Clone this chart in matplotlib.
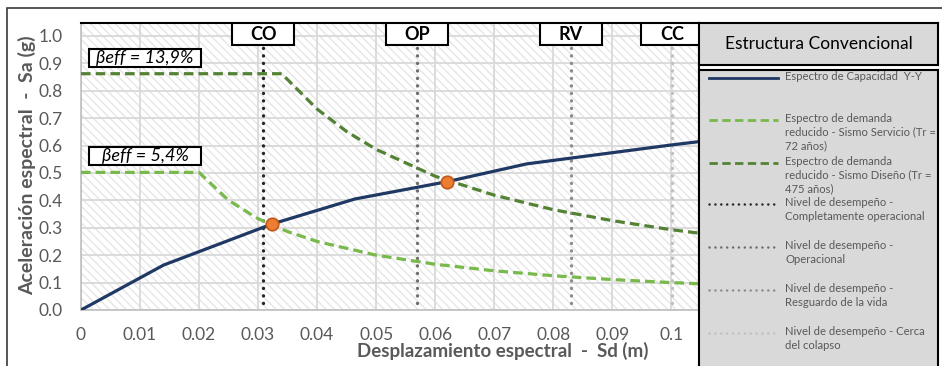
import matplotlib
matplotlib.use('Agg')
import matplotlib.pyplot as plt
from matplotlib.patches import Rectangle
import matplotlib.transforms as mtransforms

plt.rcParams['font.family'] = ['Lato', 'DejaVu Sans']
plt.rcParams['hatch.linewidth'] = 1.0

# espectro de capacidad Y-Y
sd_cap = [0.0, 0.0140, 0.0324, 0.0464, 0.0620, 0.0755, 0.1000, 0.1050]
sa_cap = [0.0, 0.164, 0.314, 0.405, 0.468, 0.533, 0.602, 0.615]

# espectro de demanda reducido - sismo servicio (Tr = 72 años)
sd_serv = [0.0, 0.020, 0.025, 0.030, 0.035, 0.040, 0.050, 0.060, 0.070, 0.080, 0.090, 0.100, 0.110]
sa_serv = [0.502, 0.502, 0.400, 0.333, 0.286, 0.250, 0.200, 0.167, 0.143, 0.125, 0.111, 0.100, 0.091]

# espectro de demanda reducido - sismo diseño (Tr = 475 años)
sd_dis = [0.0, 0.034, 0.040, 0.045, 0.050, 0.060, 0.070, 0.080, 0.090, 0.100, 0.110]
sa_dis = [0.862, 0.862, 0.733, 0.651, 0.586, 0.488, 0.419, 0.366, 0.326, 0.293, 0.266]

# puntos de desempeño
sd_pd = [0.0324, 0.0620]
sa_pd = [0.314, 0.468]

# niveles de desempeño
niveles = ['CO', 'OP', 'RV', 'CC']
sd_niveles = [0.0309, 0.0569, 0.0830, 0.1002]
col_niveles = ['#262626', '#6e6e6e', '#8c8c8c', '#c0c0c0']

beff_txt = ['βeff = 13,9%', 'βeff = 5,4%']
beff_y = [0.918, 0.562]

W, H = 942, 366
fig = plt.figure(figsize=(W / 100, H / 100), dpi=100)
fig.patch.set_facecolor('white')

ax = fig.add_axes([81 / W, 1 - 310 / H, (699 - 81) / W, (310 - 23) / H])
ax.set_xlim(0, 0.1047)
ax.set_ylim(0, 1.047)

# fondo rayado
ax.add_patch(Rectangle((0, 0), 1, 1, transform=ax.transAxes, facecolor='white',
                       edgecolor='#e6e6e6', hatch='\\\\\\\\', lw=0, zorder=0))
ax.set_xticks([i / 100 for i in range(11)])
ax.set_xticklabels(['0'] + ['%.2f' % (i / 100) for i in range(1, 10)] + ['0.1'])
ax.set_yticks([i / 10 for i in range(11)])
ax.set_yticklabels(['%.1f' % (i / 10) for i in range(11)])
ax.grid(True, color='#d9d9d9', lw=1.3, zorder=1)
ax.set_axisbelow(True)
ax.tick_params(length=0, labelsize=12.5, labelcolor='#595959')
ax.tick_params(axis='x', pad=12)
ax.tick_params(axis='y', pad=13)
for s in ['left', 'bottom']:
    ax.spines[s].set_color('#bfbfbf')
    ax.spines[s].set_linewidth(1.2)
for s in ['top', 'right']:
    ax.spines[s].set_color('black')
    ax.spines[s].set_linewidth(1.5)

ax.set_xlabel('Desplazamiento espectral  -  Sd (m)', fontsize=13.5, fontweight='bold',
              color='#595959')
ax.set_ylabel('Aceleración espectral  -  Sa (g)', fontsize=14, fontweight='bold',
              color='#595959')
ax.xaxis.set_label_coords((503 - 81) / (699 - 81), -(342 - 310) / (310 - 23))
ax.yaxis.set_label_coords(-(81 - 36) / (699 - 81), (310 - 165) / (310 - 23))

# lineas verticales de niveles de desempeño
for x, c in zip(sd_niveles, col_niveles):
    ax.plot([x, x], [0.026, 0.96], color=c, lw=2.4, linestyle=(0, (0.05, 2.2)),
            dash_capstyle='round', zorder=3)

ax.plot(sd_serv, sa_serv, color='#77b94a', lw=2.3, dashes=(3, 1.6), zorder=4)
ax.plot(sd_dis, sa_dis, color='#548235', lw=2.3, dashes=(3, 1.6), zorder=4)
ax.plot(sd_cap, sa_cap, color='#1f3864', lw=2.3, zorder=5)
ax.plot(sd_pd, sa_pd, 'o', ms=9, mfc='#ed7d31', mec='#c0581a', mew=1.2, zorder=6)

# etiquetas de niveles
trans = mtransforms.blended_transform_factory(ax.transData, ax.transAxes)
px_x = 0.1047 / (699 - 81)
px_y = 1.047 / (310 - 23)
bw = 62 * px_x
bh = 22 / (310 - 23)
for x, t in zip(sd_niveles, niveles):
    ax.add_patch(Rectangle((x - bw / 2, 1 - bh), bw, bh, transform=trans, facecolor='white',
                           edgecolor='black', lw=1.5, zorder=7, clip_on=True))
    ax.text(x, 1 - bh / 2, t, transform=trans, ha='center', va='center', fontsize=13,
            fontweight='bold', color='black', zorder=8, clip_on=True)

# cuadros de amortiguamiento efectivo
xc = (145 - 81) * px_x
for t, y in zip(beff_txt, beff_y):
    ax.add_patch(Rectangle((xc - 56 * px_x, y - 9 * px_y), 112 * px_x, 18 * px_y,
                           facecolor='white', edgecolor='black', lw=1.5, zorder=7))
    ax.text(xc, y, t, ha='center', va='center', fontsize=13, style='italic',
            color='black', zorder=8)

# marco exterior
fig.add_artist(Rectangle((7 / W, -0.2), 2, 1.2 - 8 / H, transform=fig.transFigure,
                         fill=False, ec='#3a3a3a', lw=1.2))

# titulo de la leyenda
axt = fig.add_axes([699 / W, 1 - 65 / H, (938 - 699) / W, (65 - 23) / H])
axt.set_xticks([])
axt.set_yticks([])
axt.set_facecolor('#d9d9d9')
for s in axt.spines.values():
    s.set_color('black')
    s.set_linewidth(1.5)
axt.text(0.5, 0.5, 'Estructura Convencional', ha='center', va='center', fontsize=12.5,
         color='black', transform=axt.transAxes)

# leyenda
axl = fig.add_axes([699 / W, -20 / H, (938 - 699) / W, (366 + 20 - 70) / H])
axl.set_xlim(0, 239)
axl.set_ylim(366 + 20, 70)
axl.set_xticks([])
axl.set_yticks([])
axl.set_facecolor('#d9d9d9')
for s in axl.spines.values():
    s.set_color('black')
    s.set_linewidth(1.5)

ley_txt = ['Espectro de Capacidad  Y-Y',
           'Espectro de demanda\nreducido - Sismo Servicio (Tr =\n72 años)',
           'Espectro de demanda\nreducido - Sismo Diseño (Tr =\n475 años)',
           'Nivel de desempeño -\nCompletamente operacional',
           'Nivel de desempeño -\nOperacional',
           'Nivel de desempeño -\nResguardo de la vida',
           'Nivel de desempeño - Cerca\ndel colapso']
ley_y = [78, 120, 163, 204, 247, 290, 333]
ley_estilo = [dict(color='#1f3864', lw=2.0),
              dict(color='#77b94a', lw=2.0, dashes=(3, 1.6)),
              dict(color='#548235', lw=2.0, dashes=(3, 1.6))]
for c in col_niveles:
    ley_estilo.append(dict(color=c, lw=1.8, linestyle=(0, (0.05, 2.3)), dash_capstyle='round'))

for t, y, st in zip(ley_txt, ley_y, ley_estilo):
    axl.plot([10, 79], [y, y], **st)
    axl.text(86, y - 7, t, ha='left', va='top', fontsize=8.1, color='#595959',
             linespacing=1.3)

fig.savefig('out.png', dpi=100)
